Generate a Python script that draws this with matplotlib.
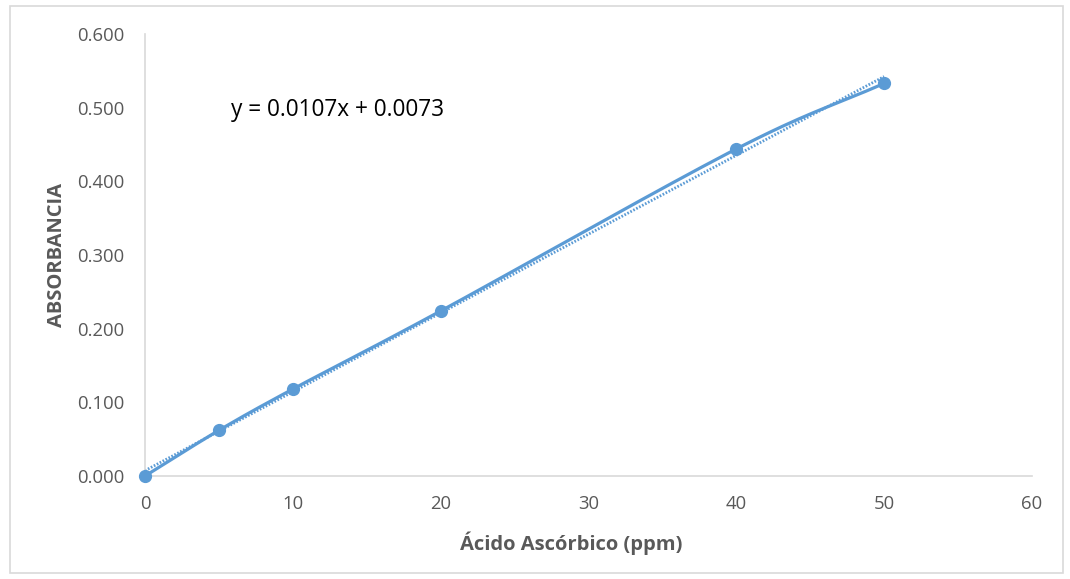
import numpy as np
import matplotlib
matplotlib.use("Agg")
import matplotlib.pyplot as plt
from matplotlib.patches import Rectangle

conc = [0, 5, 10, 20, 40, 50]
absorb = [0.000, 0.062, 0.118, 0.224, 0.444, 0.533]
slope = 0.0107
intercept = 0.0073
eq_text = "y = 0.0107x + 0.0073"
xticks = [0, 10, 20, 30, 40, 50, 60]
yticks = [0.0, 0.1, 0.2, 0.3, 0.4, 0.5, 0.6]

plt.rcParams['font.family'] = ['Open Sans', 'DejaVu Sans']
blue = '#5B9BD5'
gray = '#595959'

fig = plt.figure(figsize=(10.70, 5.79), dpi=100)
fig.patches.append(Rectangle((10/1070, 6/579), 1053/1070, 567/579, transform=fig.transFigure,
                             fill=False, edgecolor='#D9D9D9', linewidth=1.2))
ax = fig.add_axes([145/1070, 103/579, 887/1070, 442/579])

# smoothed line (Catmull-Rom through data points)
x = np.array(conc, float); y = np.array(absorb, float)
px = np.concatenate([[2*x[0]-x[1]], x, [2*x[-1]-x[-2]]])
py = np.concatenate([[2*y[0]-y[1]], y, [2*y[-1]-y[-2]]])
sx, sy = [], []
for i in range(1, len(px)-2):
    t = np.linspace(0, 1, 30)
    for arr, out in ((px, sx), (py, sy)):
        p0, p1, p2, p3 = arr[i-1], arr[i], arr[i+1], arr[i+2]
        out.extend(0.5*((2*p1) + (-p0+p2)*t + (2*p0-5*p1+4*p2-p3)*t**2 + (-p0+3*p1-3*p2+p3)*t**3))
ax.plot(sx, sy, color=blue, lw=2.3, solid_capstyle='round', zorder=3, clip_on=False)
ax.plot(conc, absorb, 'o', color=blue, ms=8.5, zorder=4, clip_on=False)

# linear trendline
tx = np.array([conc[0], conc[-1]])
ax.plot(tx, slope*tx + intercept, color=blue, lw=2.0, ls=(0, (0.6, 0.6)), zorder=2)

ax.text(5.85, 0.497, eq_text, fontsize=16.3, color='black', va='center', ha='left')

ax.set_xlim(0, 60)
ax.set_ylim(0, 0.6)
ax.set_xticks(xticks)
ax.set_yticks(yticks)
ax.set_yticklabels([f"{v:.3f}" for v in yticks])
ax.tick_params(length=0, labelsize=13.3, labelcolor=gray)
ax.tick_params(axis='x', pad=14)
ax.tick_params(axis='y', pad=15)
for s in ['top', 'right']:
    ax.spines[s].set_visible(False)
for s in ['left', 'bottom']:
    ax.spines[s].set_color('#D9D9D9')
    ax.spines[s].set_linewidth(1.2)
ax.set_xlabel("Ácido Ascórbico (ppm)", fontsize=14.5, fontweight='bold', color=gray, labelpad=10)
ax.set_ylabel("ABSORBANCIA", fontsize=14.5, fontweight='bold', color=gray, labelpad=10)
ax.xaxis.set_label_coords((571-145)/887, -0.06 - 0.0)
ax.xaxis.label.set_va('center')
ax.xaxis.set_label_coords((571-145)/887, (476-543)/442)
ax.yaxis.label.set_va('center')
ax.yaxis.set_label_coords((57-145)/887, (476-255)/442)

fig.savefig("out.png", dpi=100)
